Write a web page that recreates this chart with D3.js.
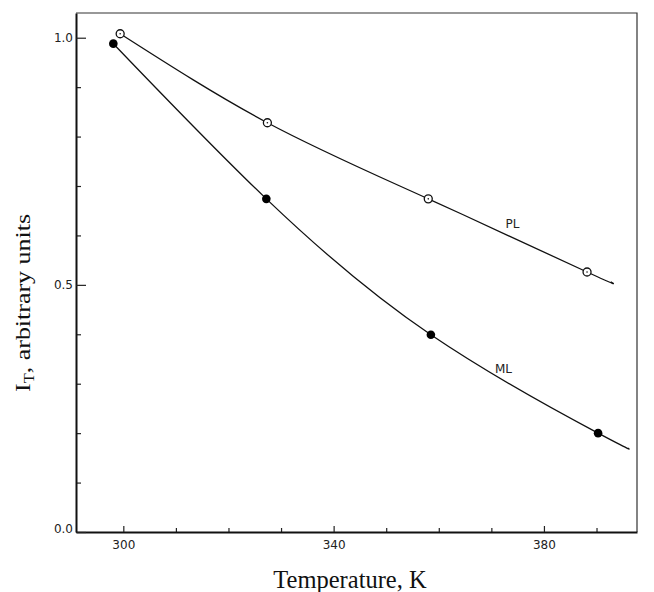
<!DOCTYPE html>
<html>
<head>
<meta charset="utf-8">
<script src="https://cdn.jsdelivr.net/npm/d3@7/dist/d3.min.js"></script>
<style>
  body { margin: 0; background: #fff; }
  .tick text { font-family: "DejaVu Sans", sans-serif; font-size: 12px; fill: #222; }
</style>
</head>
<body>
<script>
// Chart size
var w = 654;
var h = 592;
var margin = {top: 13, right: 17, bottom: 59, left: 76};

// PL (open circles): measured points and the curve's end
var plTemp = [299.4, 327.4, 358.0, 388.2];
var plValue = [1.008, 0.828, 0.674, 0.526];
var plCurveEnd = [392.7, 0.506];

// ML (filled circles)
var mlTemp = [298.1, 327.2, 358.5, 390.3];
var mlValue = [0.988, 0.674, 0.399, 0.200];
var mlCurveEnd = [396.0, 0.170];

// Tick values
var xMajor = [300, 340, 380];
var xMinor = [310, 320, 330, 350, 360, 370, 390];
var yMajor = [0.0, 0.5, 1.0];
var yMinor = [0.1, 0.2, 0.3, 0.4, 0.6, 0.7, 0.8, 0.9];

var xScale = d3.scaleLinear()
               .domain([291, 397.7])
               .range([margin.left, w - margin.right]);

var yScale = d3.scaleLinear()
               .domain([0, 1.05])
               .range([h - margin.bottom - 1, margin.top]);

var svg = d3.select("body")
            .append("svg")
            .attr("width", w)
            .attr("height", h);

var x0 = margin.left, x1 = w - margin.right;
var y0 = margin.top, y1 = h - margin.bottom - 1;

// Frame: thin top and right edges
svg.append("path")
   .attr("d", "M" + x0 + "," + y0 + "H" + x1 + "V" + y1)
   .attr("fill", "none")
   .attr("stroke", "#333")
   .attr("stroke-width", 1.2);

// Minor x ticks (pointing inward)
svg.append("g")
   .attr("transform", "translate(0," + y1 + ")")
   .call(d3.axisBottom(xScale).tickValues(xMinor).tickSize(-4).tickFormat(""))
   .call(function(g) { g.select(".domain").remove(); });

// Major x ticks and labels
svg.append("g")
   .attr("class", "xaxis")
   .attr("transform", "translate(0," + y1 + ")")
   .call(d3.axisBottom(xScale).tickValues(xMajor).tickSize(-6).tickSizeOuter(0).tickPadding(8)
           .tickFormat(d3.format("d")));

// Minor y ticks
svg.append("g")
   .attr("transform", "translate(" + x0 + ",0)")
   .call(d3.axisLeft(yScale).tickValues(yMinor).tickSize(-5).tickFormat(""))
   .call(function(g) { g.select(".domain").remove(); });

// Major y ticks and labels
svg.append("g")
   .attr("class", "yaxis")
   .attr("transform", "translate(" + x0 + ",0)")
   .call(d3.axisLeft(yScale).tickValues(yMajor).tickSize(-10).tickSizeOuter(0).tickPadding(3)
           .tickFormat(d3.format(".1f")));

svg.selectAll(".xaxis .domain, .yaxis .domain")
   .attr("stroke", "#111")
   .attr("stroke-width", 2);
svg.selectAll(".tick line").attr("stroke", "#222").attr("stroke-width", 1.2);
svg.select(".yaxis").selectAll(".tick").filter(function(d) { return d === 0; })
   .select("text").attr("dy", "0.05em");

// Curves
var line = d3.line()
             .x(function(d) { return xScale(d[0]); })
             .y(function(d) { return yScale(d[1]); })
             .curve(d3.curveNatural);

var plPts = plTemp.map(function(t, i) { return [t, plValue[i]]; });
var mlPts = mlTemp.map(function(t, i) { return [t, mlValue[i]]; });

svg.append("path")
   .datum(plPts.concat([plCurveEnd]))
   .attr("d", line)
   .attr("fill", "none")
   .attr("stroke", "#111")
   .attr("stroke-width", 1.3);

svg.append("path")
   .datum(mlPts.concat([mlCurveEnd]))
   .attr("d", line)
   .attr("fill", "none")
   .attr("stroke", "#111")
   .attr("stroke-width", 1.3);

// Markers
svg.selectAll(".pl")
   .data(plPts)
   .enter()
   .append("circle")
   .attr("class", "pl")
   .attr("cx", function(d) { return xScale(d[0]); })
   .attr("cy", function(d) { return yScale(d[1]); })
   .attr("r", 4)
   .attr("fill", "#fff")
   .attr("stroke", "#111")
   .attr("stroke-width", 1.3);

svg.selectAll(".pldot")
   .data(plPts)
   .enter()
   .append("circle")
   .attr("class", "pldot")
   .attr("cx", function(d) { return xScale(d[0]); })
   .attr("cy", function(d) { return yScale(d[1]); })
   .attr("r", 0.8)
   .attr("fill", "#111");

svg.selectAll(".ml")
   .data(mlPts)
   .enter()
   .append("circle")
   .attr("class", "ml")
   .attr("cx", function(d) { return xScale(d[0]); })
   .attr("cy", function(d) { return yScale(d[1]); })
   .attr("r", 4.3)
   .attr("fill", "#000");

// Curve labels
svg.append("text")
   .attr("x", xScale(374))
   .attr("y", yScale(0.615))
   .attr("text-anchor", "middle")
   .attr("font-family", "DejaVu Sans, sans-serif")
   .attr("font-size", "12px")
   .attr("fill", "#222")
   .text("PL");

svg.append("text")
   .attr("x", xScale(372.3))
   .attr("y", yScale(0.322))
   .attr("text-anchor", "middle")
   .attr("font-family", "DejaVu Sans, sans-serif")
   .attr("font-size", "12px")
   .attr("fill", "#222")
   .text("ML");

// Axis titles
svg.append("text")
   .attr("x", 350)
   .attr("y", 588)
   .attr("text-anchor", "middle")
   .attr("font-family", "Liberation Serif, serif")
   .attr("font-size", "24.5px")
   .attr("fill", "#111")
   .text("Temperature, K");

var yTitle = svg.append("text")
   .attr("transform", "translate(30,303) rotate(-90) scale(1.18,1)")
   .attr("text-anchor", "middle")
   .attr("font-family", "Liberation Serif, serif")
   .attr("font-size", "22px")
   .attr("fill", "#111");
yTitle.append("tspan").text("I");
yTitle.append("tspan").attr("font-size", "14px").attr("dy", "4").text("T");
yTitle.append("tspan").attr("dy", "-4").text(", arbitrary units");
</script>
</body>
</html>
